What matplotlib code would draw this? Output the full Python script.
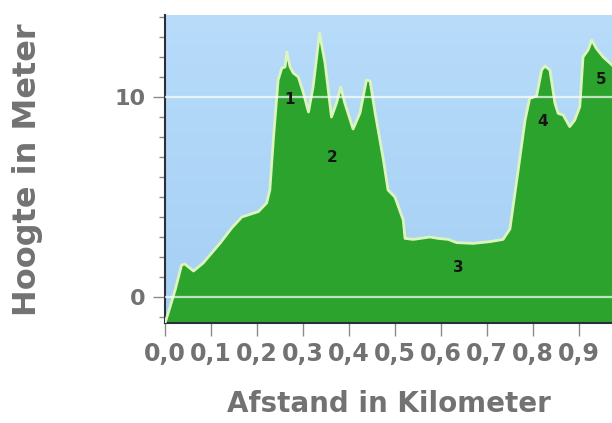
import numpy as np
import matplotlib
matplotlib.use("Agg")
import matplotlib.pyplot as plt
from matplotlib.ticker import MultipleLocator, FixedLocator

# profiel (afstand in km, hoogte in m)
dist_km = [0.0, 0.007, 0.022, 0.036, 0.043, 0.062, 0.083, 0.12, 0.145, 0.167,
           0.203, 0.221, 0.228, 0.236, 0.246, 0.254, 0.261, 0.265, 0.272,
           0.279, 0.29, 0.301, 0.312, 0.322, 0.336, 0.348, 0.362, 0.373, 0.382,
           0.391, 0.409, 0.424, 0.438, 0.446, 0.457, 0.475, 0.485, 0.5, 0.518,
           0.522, 0.54, 0.576, 0.594, 0.616, 0.634, 0.67, 0.707, 0.735, 0.75,
           0.768, 0.783, 0.793, 0.808, 0.819, 0.826, 0.837, 0.848, 0.855, 0.866,
           0.88, 0.891, 0.902, 0.909, 0.92, 0.928, 0.938, 0.953, 0.972]
height_m = [-1.3, -0.8, 0.35, 1.6, 1.65, 1.3, 1.7, 2.7, 3.45, 4.0,
            4.27, 4.7, 5.35, 8.0, 10.85, 11.45, 11.5, 12.25, 11.5,
            11.2, 11.0, 10.2, 9.25, 10.5, 13.2, 11.7, 9.0, 9.7, 10.5,
            9.7, 8.4, 9.2, 10.85, 10.8, 9.2, 6.85, 5.35, 5.0, 3.85,
            2.93, 2.88, 3.0, 2.93, 2.88, 2.72, 2.68, 2.77, 2.88, 3.4,
            6.35, 8.85, 9.93, 10.05, 11.35, 11.55, 11.35, 9.68, 9.18, 9.1,
            8.52, 8.85, 9.52, 12.0, 12.35, 12.85, 12.43, 12.0, 11.6]

# genummerde punten
mark_x = [0.27, 0.363, 0.637, 0.822, 0.949]
mark_y = [9.85, 7.0, 1.5, 8.8, 10.85]
mark_txt = ["1", "2", "3", "4", "5"]

x_ticks = [0.0, 0.1, 0.2, 0.3, 0.4, 0.5, 0.6, 0.7, 0.8, 0.9]
x_ticklabels = ["0,0", "0,1", "0,2", "0,3", "0,4", "0,5", "0,6", "0,7", "0,8", "0,9"]
y_ticks = [0, 10]

GREY = "#727272"

fig = plt.figure(figsize=(6.12, 4.23), dpi=100)
ax = fig.add_axes([165 / 612, 100 / 423, 1 - 165 / 612, 308 / 423])
ax.set_xlim(0, 0.972)
ax.set_ylim(-1.3, 14.1)

# lichtblauwe achtergrond met verloop
grad = np.linspace(0, 1, 256).reshape(-1, 1)
cmap = matplotlib.colors.LinearSegmentedColormap.from_list("bg", ["#a4cff4", "#b8dcfa"])
ax.imshow(grad, extent=[0, 1, 0, 1], transform=ax.transAxes, aspect="auto",
          cmap=cmap, origin="lower", zorder=0)

ax.fill_between(dist_km, height_m, -1.3, color="#2ca32c", lw=0, zorder=2)
ax.plot(dist_km, height_m, color="#dcf5bd", lw=2, zorder=3)

for y in y_ticks:
    ax.axhline(y, color="white", lw=1.6, alpha=0.7, zorder=4)

for x, y, t in zip(mark_x, mark_y, mark_txt):
    ax.text(x, y, t, ha="center", va="center", fontsize=11, fontweight="bold",
            color="#151515", zorder=5)

ax.xaxis.set_major_locator(FixedLocator(x_ticks))
ax.set_xticklabels(x_ticklabels)
ax.yaxis.set_major_locator(FixedLocator(y_ticks))
ax.yaxis.set_minor_locator(MultipleLocator(1))

ax.tick_params(axis="x", direction="out", length=9, width=1, color="#8a8a8a",
               labelsize=17, labelcolor=GREY, pad=5)
ax.tick_params(axis="y", which="major", direction="out", length=9, width=1,
               color="#8a8a8a", labelsize=16, labelcolor=GREY, pad=5)
ax.tick_params(axis="y", which="minor", direction="out", length=4, width=1,
               color="#8a8a8a")
for lab in ax.get_xticklabels() + ax.get_yticklabels():
    lab.set_fontweight("bold")

for s in ["top", "right"]:
    ax.spines[s].set_visible(False)
ax.spines["left"].set_color("#2a2f3a")
ax.spines["bottom"].set_color("#2a2f3a")
ax.spines["left"].set_linewidth(1.5)
ax.spines["bottom"].set_linewidth(1.5)

ax.set_xlabel("Afstand in Kilometer", fontsize=20, fontweight="bold", color=GREY,
              labelpad=17)
fig.text(28 / 612, 1 - 170 / 423, "Hoogte in Meter", rotation=90, ha="center",
         va="center", fontsize=23, fontweight="bold", color=GREY)

fig.savefig("out.png", dpi=100)
